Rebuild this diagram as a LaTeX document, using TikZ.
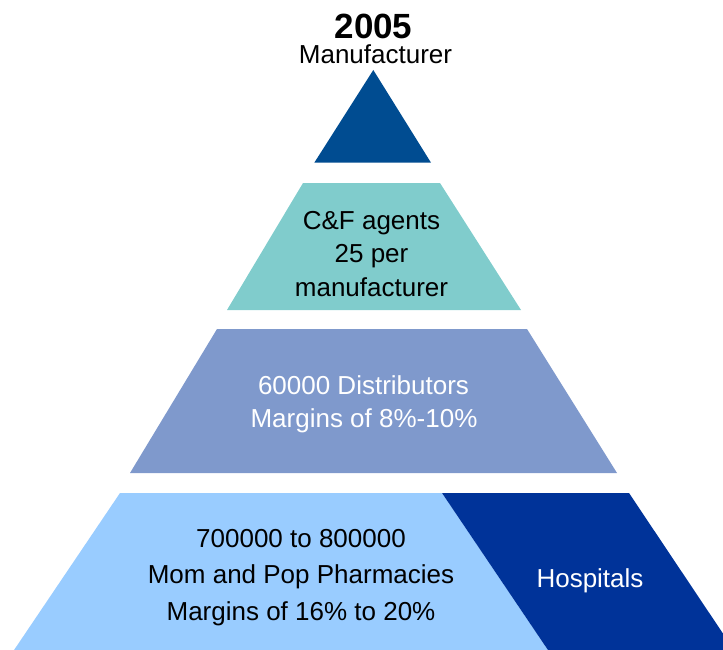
\documentclass[tikz,border=0pt]{standalone}
\usepackage{fontspec}
\setmainfont{Liberation Sans}
\definecolor{topblue}{RGB}{0,76,145}
\definecolor{teal}{RGB}{128,204,204}
\definecolor{distblue}{RGB}{127,153,204}
\definecolor{lightblue}{RGB}{153,204,255}
\definecolor{hospblue}{RGB}{0,51,153}
\tikzset{
  txt/.style={anchor=base,inner sep=0pt,font=\fontsize{26}{31}\selectfont},
  wtxt/.style={txt,text=white},
  tier/.style={draw=none}
}
\begin{document}
\begin{tikzpicture}[x=1pt,y=-1pt]
\useasboundingbox (0,0) rectangle (723,650);
\clip (0,0) rectangle (723,650);
% tiers
\fill[topblue] (373.3,70) -- (431,162.7) -- (314.3,162.7) -- cycle;
\fill[teal] (303,183) -- (440,183) -- (521,310) -- (227,310) -- cycle;
\fill[distblue] (217,329) -- (527,329) -- (617,473) -- (130,473) -- cycle;
\fill[lightblue] (120,493) -- (442,493) -- (552,656) -- (10,656) -- cycle;
\fill[hospblue] (442,493) -- (629,493) -- (738,656) -- (552,656) -- cycle;
% texts
\node[txt,font=\fontsize{35}{42}\selectfont\bfseries,text depth=0pt] (year) at (373.5,39) {2005};
\node[txt,text height=18pt] (manu) at (375.5,64) {Manufacturer};
\node[txt] (cf1) at (371.5,229) {C\&F agents};
\node[txt] (cf2) at (371.5,262) {25 per};
\node[txt] (cf3) at (371.5,296) {manufacturer};
\node[wtxt] (d1) at (363.5,394) {60000 Distributors};
\node[wtxt] (d2) at (364,427) {Margins of 8\%-10\%};
\node[txt] (p1) at (301,547) {700000 to 800000};
\node[txt] (p2) at (301,583) {Mom and Pop Pharmacies};
\node[txt] (p3) at (301,620) {Margins of 16\% to 20\%};
\node[wtxt] (h) at (590,587) {Hospitals};
\end{tikzpicture}
\end{document}
